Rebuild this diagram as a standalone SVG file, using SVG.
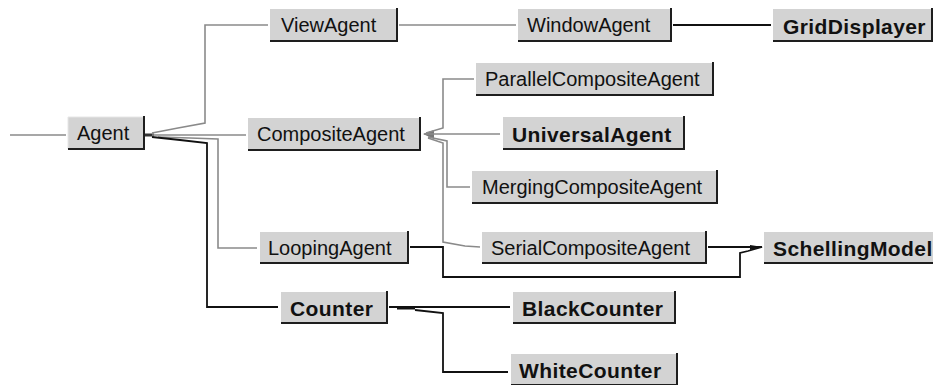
<svg xmlns="http://www.w3.org/2000/svg" width="933" height="385" viewBox="0 0 933 385">
<style>
.box{fill:#d3d3d3;stroke:none}
.edge{stroke:#1e1e1e;stroke-width:2;fill:none}
.hl{stroke:#e6e6e6;stroke-width:1;fill:none}
.t{font-family:"Liberation Sans",Arial,sans-serif;font-size:20px;fill:#111}
.b{font-family:"Liberation Sans",Arial,sans-serif;font-size:21px;font-weight:bold;letter-spacing:0.4px;fill:#111}
.g{stroke:#8a8a8a;stroke-width:1.6;fill:none}
.k{stroke:#111;stroke-width:1.8;fill:none}
</style>
<rect width="933" height="385" fill="#ffffff"/>
<g id="connectors">
<line class="g" x1="10" y1="135" x2="66" y2="135"/>
<line x1="145" y1="135" x2="154" y2="135" stroke="#333" stroke-width="3"/>
<polyline class="g" points="152,133 178,128 205,123 205,25 268,25"/>
<polyline class="g" points="152,135 246,135"/>
<polyline class="g" points="158,137 190,138 218,139 218,248 257,248"/>
<polyline class="k" points="152,137 180,140 207,143 207,307 278,307"/>
<line class="g" x1="399" y1="25" x2="516" y2="25"/>
<line class="k" x1="673" y1="25" x2="771" y2="25"/>
<polygon points="423,134 434,130 434,139" fill="#777"/>
<polyline class="g" points="426,133 443,128 443,79 474,79"/>
<polyline class="g" points="424,134 500,134"/>
<polyline class="g" points="428,137 447,141 447,187 470,187"/>
<polyline class="g" points="428,138 443,143 443,242 465,246 480,247"/>
<polyline class="k" points="410,247 443,247 443,277 740,277 740,253 748,251 762,247"/>
<line class="k" x1="708" y1="247" x2="762" y2="247"/>
<polygon points="750,245 763,247 750,250" fill="#111"/>
<line class="k" x1="389" y1="307" x2="510" y2="307"/>
<line x1="397" y1="308" x2="415" y2="308" stroke="#111" stroke-width="3"/>
<polyline class="k" points="415,310 443,313 443,372 508,372"/>
</g>
<g id="Agent"><rect class="box" x="68" y="117" width="76" height="32"/><polyline class="hl" points="68,149 68,117 144,117"/><polyline class="edge" points="68,149 144,149 144,116"/><text class="t" x="77" y="140">Agent</text></g>
<g id="ViewAgent"><rect class="box" x="270" y="9" width="127" height="32"/><polyline class="edge" points="270,41 397,41 397,8"/><text class="t" x="281" y="32">ViewAgent</text></g>
<g id="WindowAgent"><rect class="box" x="518" y="9" width="153" height="32"/><polyline class="edge" points="518,41 671,41 671,8"/><text class="t" x="527" y="32">WindowAgent</text></g>
<g id="GridDisplayer"><rect class="box" x="773" y="9" width="159" height="32"/><polyline class="edge" points="773,41 932,41 932,8"/><text class="b" x="783" y="34">GridDisplayer</text></g>
<g id="CompositeAgent"><rect class="box" x="248" y="118" width="172" height="32"/><polyline class="edge" points="248,150 420,150 420,117"/><text class="t" x="257" y="141">CompositeAgent</text></g>
<g id="ParallelCompositeAgent"><rect class="box" x="476" y="63" width="237" height="32"/><polyline class="edge" points="476,95 713,95 713,62"/><text class="t" x="485" y="86">ParallelCompositeAgent</text></g>
<g id="UniversalAgent"><rect class="box" x="503" y="117" width="181" height="32"/><polyline class="edge" points="503,149 684,149 684,116"/><text class="b" x="512" y="142">UniversalAgent</text></g>
<g id="MergingCompositeAgent"><rect class="box" x="472" y="171" width="245" height="32"/><polyline class="edge" points="472,203 717,203 717,170"/><text class="t" x="482" y="194">MergingCompositeAgent</text></g>
<g id="LoopingAgent"><rect class="box" x="260" y="232" width="148" height="31"/><polyline class="edge" points="260,263 408,263 408,231"/><text class="t" x="268" y="255">LoopingAgent</text></g>
<g id="SerialCompositeAgent"><rect class="box" x="482" y="232" width="224" height="31"/><polyline class="edge" points="482,263 706,263 706,231"/><text class="t" x="491" y="255">SerialCompositeAgent</text></g>
<g id="SchellingModel"><rect class="box" x="764" y="232" width="169" height="31"/><polyline class="edge" points="764,263 933,263"/><text class="b" x="773" y="256">SchellingModel</text></g>
<g id="Counter"><rect class="box" x="281" y="292" width="106" height="31"/><polyline class="edge" points="281,323 387,323 387,291"/><text class="b" x="290" y="316">Counter</text></g>
<g id="BlackCounter"><rect class="box" x="513" y="292" width="162" height="31"/><polyline class="edge" points="513,323 675,323 675,291"/><text class="b" x="522" y="316">BlackCounter</text></g>
<g id="WhiteCounter"><rect class="box" x="511" y="354" width="166" height="31"/><polyline class="edge" points="511,385 677,385 677,353"/><text class="b" x="519" y="378">WhiteCounter</text></g>
</svg>
